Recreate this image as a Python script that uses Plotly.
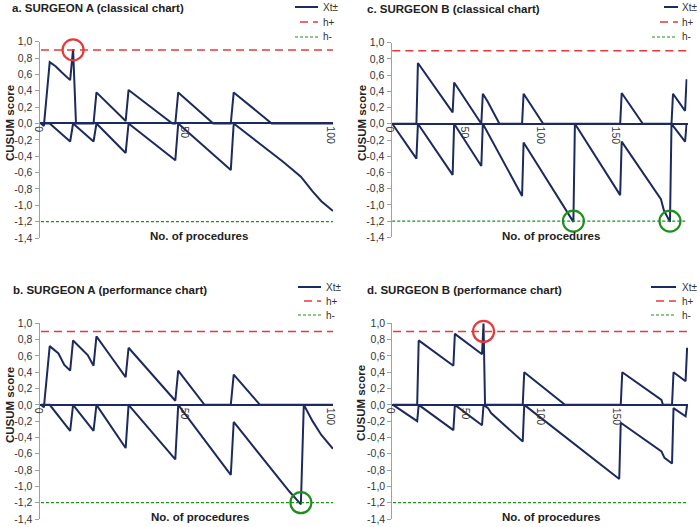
import plotly.graph_objects as go

W, H = 697, 527

# ---------------- data ----------------
H_PLUS = 0.9
H_MINUS = -1.2

# a. Surgeon A classical chart
a_up_x = [0, 1, 3, 5, 7, 10, 11, 12, 18, 19, 29, 30, 45, 46, 47, 59, 65, 66, 79, 100]
a_up_y = [0, -0.03, 0.75, 0.70, 0.63, 0.53, 0.91, 0, 0, 0.38, 0.03, 0.41, 0, 0, 0.38, 0, 0, 0.38, 0, 0]
a_lo_x = [0, 3, 10, 11, 18, 19, 29, 30, 46, 47, 65, 66, 83, 89, 93, 96, 100]
a_lo_y = [0, 0, -0.22, 0, -0.22, 0, -0.36, 0, -0.45, 0, -0.57, 0, -0.47, -0.65, -0.83, -0.95, -1.07]

# b. Surgeon A performance chart
b_up_x = [0, 1, 3, 6, 8, 10, 11, 16, 18, 19, 24, 29, 30, 46, 47, 56, 65, 66, 75, 100]
b_up_y = [0, -0.03, 0.72, 0.63, 0.49, 0.42, 0.79, 0.61, 0.48, 0.84, 0.59, 0.34, 0.70, 0.05, 0.42, 0, 0, 0.37, 0, 0]
b_lo_x = [0, 3, 10, 11, 18, 19, 29, 30, 46, 47, 65, 66, 85, 89, 90, 93, 96, 100]
b_lo_y = [0, 0, -0.32, 0, -0.32, 0, -0.53, 0, -0.67, 0, -0.86, -0.21, -1.06, -1.22, 0, -0.20, -0.37, -0.54]

# c. Surgeon B classical chart
c_up_x = [0, 16, 17, 40, 41, 59, 60, 63, 71, 86, 87, 100, 151, 152, 166, 185, 186, 194, 195]
c_up_y = [0, 0, 0.75, 0.14, 0.51, 0, 0.37, 0.28, 0, 0, 0.37, 0, 0, 0.38, 0, 0, 0.37, 0.16, 0.55]
c_lo_x = [0, 16, 17, 40, 41, 59, 60, 86, 87, 120, 121, 151, 152, 178, 180, 184, 185, 194, 195]
c_lo_y = [0, -0.43, 0, -0.63, 0, -0.52, 0, -0.89, -0.23, -1.21, 0, -0.88, -0.22, -0.93, -1.07, -1.21, 0, -0.22, 0]

# d. Surgeon B performance chart
d_up_x = [0, 16, 17, 40, 41, 59, 60, 61, 86, 87, 114, 151, 152, 178, 179, 185, 186, 194, 195]
d_up_y = [0, 0, 0.79, 0.48, 0.87, 0.62, 1.0, 0, 0, 0.40, 0, 0, 0.40, 0.06, 0, 0, 0.40, 0.29, 0.70]
d_lo_x = [0, 16, 17, 40, 41, 59, 60, 63, 65, 86, 87, 150, 151, 178, 180, 185, 186, 194, 195]
d_lo_y = [0, -0.20, 0, -0.31, 0, -0.25, 0, -0.04, -0.10, -0.45, 0, -0.91, -0.22, -0.57, -0.65, -0.72, -0.04, -0.14, 0]

titles = ["a. SURGEON A (classical chart)", "b. SURGEON A (performance chart)",
          "c. SURGEON B (classical chart)", "d. SURGEON B (performance chart)"]
y_ticks = [-1.4, -1.2, -1.0, -0.8, -0.6, -0.4, -0.2, 0.0, 0.2, 0.4, 0.6, 0.8, 1.0]
y_tick_labels = ["-1,4", "-1,2", "-1,0", "-0,8", "-0,6", "-0,4", "-0,2", "0,0",
                 "0,2", "0,4", "0,6", "0,8", "1,0"]
x_ticks_A = [0, 50, 100]
x_ticks_B = [0, 50, 100, 150]
legend_names = ["Xt\u00b1", "h+", "h-"]
x_title = "No. of procedures"
y_title = "CUSUM score"

# ---------------- styling ----------------
NAVY = "#1C2A5E"
RED = "#E8393A"
GREEN = "#1E8F1E"
FONT = "Liberation Sans, Arial, sans-serif"
STYLES = [dict(color=NAVY, width=2), dict(color=RED, width=1.5, dash="8px,5px"),
          dict(color=GREEN, width=1.2, dash="3px,2px")]


def px_x(p):
    return p / W


def px_y(p):
    return 1 - p / H


panels = [
    dict(up=(a_up_x, a_up_y), lo=(a_lo_x, a_lo_y), xt=x_ticks_A, xr=[-0.5, 100],
         xd=(39.5, 333), yd=(41.7, 238), title=(10, 8), ytit=(10, 123), xtit=(199, 236),
         leg_lines=[(295, 318), (300, 318), (295, 318)], leg_text=321, leg_y=[7, 22, 37]),
    dict(up=(b_up_x, b_up_y), lo=(b_lo_x, b_lo_y), xt=x_ticks_A, xr=[-0.5, 100],
         xd=(39.5, 333), yd=(323.3, 519), title=(11, 290), ytit=(10, 405), xtit=(200, 517),
         leg_lines=[(298, 321), (304, 321), (298, 321)], leg_text=324, leg_y=[287, 301, 315]),
    dict(up=(c_up_x, c_up_y), lo=(c_lo_x, c_lo_y), xt=x_ticks_B, xr=[-0.5, 195.6],
         xd=(391.5, 687.5), yd=(42.7, 237.3), title=(365, 9), ytit=(362, 123), xtit=(551, 236),
         leg_lines=[(664, 678), (660, 678), (652, 677)], leg_text=680, leg_y=[7, 22, 37]),
    dict(up=(d_up_x, d_up_y), lo=(d_lo_x, d_lo_y), xt=x_ticks_B, xr=[-0.5, 195.6],
         xd=(392.3, 688), yd=(323.3, 519), title=(365, 290), ytit=(361, 403), xtit=(551, 517),
         leg_lines=[(651, 676), (656, 676), (651, 676)], leg_text=680, leg_y=[287, 301, 315]),
]

fig = go.Figure()
annotations = []
shapes = []
layout = {}

for i, p in enumerate(panels):
    n = i + 1
    xa = "x" if n == 1 else f"x{n}"
    ya = "y" if n == 1 else f"y{n}"
    xmax = p["up"][0][-1]

    # upper and lower CUSUM lines
    fig.add_trace(go.Scatter(x=p["up"][0], y=p["up"][1], mode="lines", name=legend_names[0],
                             line=STYLES[0], xaxis=xa, yaxis=ya, hoverinfo="skip"))
    fig.add_trace(go.Scatter(x=p["lo"][0], y=p["lo"][1], mode="lines", name=legend_names[0],
                             line=STYLES[0], xaxis=xa, yaxis=ya, hoverinfo="skip"))
    # control limits
    fig.add_trace(go.Scatter(x=[0, xmax], y=[H_PLUS, H_PLUS], mode="lines", name=legend_names[1],
                             line=STYLES[1], xaxis=xa, yaxis=ya, hoverinfo="skip"))
    fig.add_trace(go.Scatter(x=[0, xmax], y=[H_MINUS, H_MINUS], mode="lines", name=legend_names[2],
                             line=STYLES[2], xaxis=xa, yaxis=ya, hoverinfo="skip"))
    # signals: where a CUSUM crosses its limit
    sig_up = [x for x, y in zip(*p["up"]) if y >= H_PLUS]
    sig_lo = [x for x, y in zip(*p["lo"]) if y <= H_MINUS]
    if sig_up:
        fig.add_trace(go.Scatter(x=sig_up, y=[H_PLUS] * len(sig_up), mode="markers",
                                 marker=dict(symbol="circle-open", size=21, color=RED,
                                             line=dict(width=2.2, color=RED)),
                                 cliponaxis=False, xaxis=xa, yaxis=ya, hoverinfo="skip"))
    if sig_lo:
        fig.add_trace(go.Scatter(x=sig_lo, y=[H_MINUS] * len(sig_lo), mode="markers",
                                 marker=dict(symbol="circle-open", size=21, color=GREEN,
                                             line=dict(width=2.2, color=GREEN)),
                                 cliponaxis=False, xaxis=xa, yaxis=ya, hoverinfo="skip"))

    yd0 = px_y(p["yd"][1])
    yd1 = px_y(p["yd"][0])
    zero_pos = yd0 + (0 - (-1.4)) / (1.0 - (-1.4)) * (yd1 - yd0)
    xkey = "xaxis" if n == 1 else f"xaxis{n}"
    ykey = "yaxis" if n == 1 else f"yaxis{n}"
    layout[xkey] = dict(domain=[px_x(p["xd"][0]), px_x(p["xd"][1])], range=p["xr"],
                        anchor="free", position=zero_pos, showline=True, linecolor=NAVY,
                        linewidth=1.5, showgrid=False, zeroline=False, ticks="",
                        tickvals=p["xt"], ticktext=[str(v) for v in p["xt"]], tickangle=90,
                        ticklabelshift=-3, automargin=False,
                        tickfont=dict(family=FONT, size=10.5, color="#333333"))
    layout[ykey] = dict(domain=[yd0, yd1], range=[-1.4, 1.0], anchor=xa, showline=True,
                        linecolor="#A0A0A0", linewidth=1, showgrid=False, zeroline=False,
                        ticks="outside", ticklen=4, tickcolor="#A0A0A0",
                        tickvals=y_ticks, ticktext=y_tick_labels, automargin=False,
                        tickfont=dict(family=FONT, size=10.5, color="#333333"))

    # legend (drawn per panel)
    for k in range(3):
        x0, x1 = p["leg_lines"][k]
        yy = px_y(p["leg_y"][k])
        shapes.append(dict(type="line", xref="paper", yref="paper", x0=px_x(x0), x1=px_x(x1),
                           y0=yy, y1=yy, line=STYLES[k]))
        annotations.append(dict(text=legend_names[k], xref="paper", yref="paper",
                                x=px_x(p["leg_text"]), y=yy, xanchor="left", yanchor="middle",
                                showarrow=False,
                                font=dict(family=FONT, size=10, color="#333333")))

    annotations.append(dict(text=f"<b>{titles[i]}</b>", xref="paper", yref="paper",
                            x=px_x(p["title"][0]), y=px_y(p["title"][1]), xanchor="left",
                            yanchor="middle", showarrow=False,
                            font=dict(family=FONT, size=11.5, color="#222222")))
    annotations.append(dict(text=f"<b>{y_title}</b>", xref="paper", yref="paper",
                            x=px_x(p["ytit"][0]), y=px_y(p["ytit"][1]), xanchor="center",
                            yanchor="middle", textangle=-90, showarrow=False,
                            font=dict(family=FONT, size=11.5, color="#222222")))
    annotations.append(dict(text=f"<b>{x_title}</b>", xref="paper", yref="paper",
                            x=px_x(p["xtit"][0]), y=px_y(p["xtit"][1]), xanchor="center",
                            yanchor="middle", showarrow=False,
                            font=dict(family=FONT, size=11.5, color="#222222")))

fig.update_layout(width=W, height=H, margin=dict(l=0, r=0, t=0, b=0),
                  paper_bgcolor="white", plot_bgcolor="white", showlegend=False,
                  font=dict(family=FONT, size=11, color="#333333"),
                  annotations=annotations, shapes=shapes, **layout)

fig.write_html("out.html", config={"displayModeBar": False},
               post_script="document.body.style.margin='0';document.body.style.overflow='hidden';")
